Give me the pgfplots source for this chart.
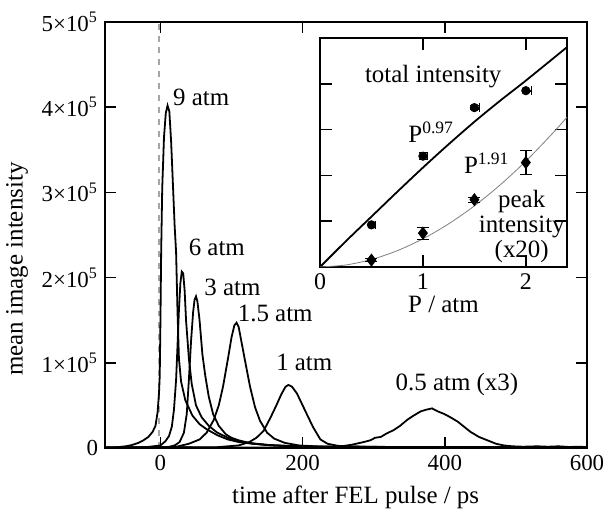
\documentclass[border=0pt]{standalone}
\usepackage{fontspec}
\setmainfont{Liberation Serif}
\usepackage{pgfplots}
\pgfplotsset{compat=1.18}

\newcommand{\tl}[1]{#1×10\textsuperscript{5}}

\begin{document}
\begin{tikzpicture}[font=\fontsize{11}{13}\selectfont,
  trace/.style={black, line width=0.9pt, no marks}]
\useasboundingbox (-52.5bp,-32bp) rectangle (252.5bp,224bp);
% main panel: time traces (y in units of 1e5)
\begin{axis}[
  at={(0,0)}, anchor=south west,
  scale only axis, width=241bp, height=213bp,
  xmin=-78, xmax=600, ymin=0, ymax=5,
  xtick={0,200,400,600},
  ytick={0,1,2,3,4,5},
  yticklabels={0,\tl{1},\tl{2},\tl{3},\tl{4},\tl{5}},
  tick align=inside, major tick length=5.5bp,
  axis line style={line width=0.8pt},
  tick style={line width=0.8pt, black},
  tick label style={font=\fontsize{11.5}{13}\selectfont},
  label style={font=\fontsize{12.5}{14}\selectfont},
  /pgf/number format/assume math mode=true,
  xlabel={time after FEL pulse / ps},
  xlabel style={at={(ticklabel cs:0.52)}, yshift=-1bp},
  ylabel={mean image intensity},
  ylabel style={at={(ticklabel cs:0.42)}},
]
\addplot[gray!70, dashed, line width=0.6pt] coordinates {(-2,0) (-2,5)};
% 9 atm
\addplot[trace] coordinates {
(-80,0.01) (-60,0.01) (-49,0.02) (-40,0.035) (-31,0.06) (-24,0.09) (-17,0.13)
(-11,0.19) (-7,0.26) (-4,0.42) (-2,0.65) (-1,0.85) (0,1.5) (1,2.3) (2.5,3.05)
(5,3.65) (7.5,3.93) (10,4.02) (12.5,3.95) (15,3.6) (17,3.2) (20,2.6) (22,2.3)
(24,1.6) (26,1.05) (29,0.78) (35,0.56) (45,0.38) (55,0.28) (65,0.22) (80,0.15)
(95,0.1) (110,0.07) (130,0.05) (160,0.03) (200,0.02) (300,0.01) (600,0.01)};
% 6 atm
\addplot[trace] coordinates {
(-80,0.005) (-20,0.01) (0,0.03) (7,0.08) (12,0.14) (16,0.25) (19,0.45) (22,0.8)
(24,1.2) (26,1.62) (28,1.93) (30,2.07) (32,2.05) (34,1.85) (36,1.5) (40,1.05)
(44,0.75) (50,0.5) (58,0.36) (68,0.26) (80,0.18) (95,0.12) (110,0.08) (130,0.05)
(160,0.03) (200,0.015) (600,0.008)};
% 3 atm
\addplot[trace] coordinates {
(-80,0.003) (10,0.01) (20,0.03) (27,0.07) (33,0.18) (37,0.4) (40,0.8) (43,1.25)
(46,1.6) (48,1.74) (50,1.78) (52,1.72) (55,1.5) (59,1.1) (63,0.85) (68,0.6)
(74,0.4) (82,0.26) (92,0.16) (100,0.12) (110,0.09) (125,0.06) (150,0.035)
(200,0.015) (600,0.005)};
% 1.5 atm
\addplot[trace] coordinates {
(-80,0.003) (20,0.01) (40,0.05) (55,0.1) (65,0.18) (75,0.33) (82,0.5) (88,0.72)
(95,1.05) (100,1.3) (104,1.44) (107,1.47) (110,1.42) (115,1.2) (120,0.98)
(126,0.72) (133,0.48) (140,0.32) (150,0.18) (160,0.11) (175,0.06) (195,0.03)
(230,0.015) (600,0.005)};
% 1 atm
\addplot[trace] coordinates {
(-80,0.003) (80,0.01) (110,0.03) (125,0.07) (135,0.12) (145,0.2) (155,0.36)
(163,0.5) (170,0.63) (176,0.72) (180,0.74) (185,0.72) (192,0.64) (200,0.5)
(208,0.36) (215,0.24) (225,0.1) (235,0.05) (250,0.025) (265,0.02) (300,0.01)
(600,0.005)};
% 0.5 atm (x3)
\addplot[trace] coordinates {
(-80,0.005) (0,0.008) (100,0.006) (200,0.005) (239,0.01) (255,0.02) (270,0.04)
(286,0.07) (295,0.09) (302,0.12) (310,0.13) (318,0.17) (328,0.21) (337,0.26)
(347,0.33) (356,0.38) (366,0.43) (374,0.45) (382,0.465) (390,0.43) (399,0.40)
(408,0.36) (418,0.31) (427,0.25) (436,0.19) (448,0.13) (460,0.09) (472,0.05)
(483,0.03) (495,0.02) (510,0.015) (530,0.02) (545,0.015) (560,0.02)
(575,0.012) (590,0.015) (600,0.01)};
\begin{scope}[font=\fontsize{12.5}{14}\selectfont]
\node[anchor=west] at (axis cs:8,4.12) {9 atm};
\node[anchor=west] at (axis cs:30,2.35) {6 atm};
\node[anchor=west] at (axis cs:52,1.89) {3 atm};
\node[anchor=west] at (axis cs:99,1.58) {1.5 atm};
\node[anchor=west] at (axis cs:153,1.0) {1 atm};
\node at (axis cs:417,0.74) {0.5 atm (x3)};
\end{scope}
\end{axis}

% inset: intensity vs pressure
\begin{axis}[
  at={(107.5bp,90.5bp)}, anchor=south west,
  scale only axis, width=123.5bp, height=114.5bp,
  xmin=0, xmax=2.4, ymin=0, ymax=5,
  xtick={0,1,2}, ytick={0,1,2,3,4,5}, yticklabels={},
  tick align=inside, major tick length=6bp,
  axis background/.style={fill=white},
  axis line style={line width=0.8pt},
  tick style={line width=0.8pt, black},
  tick label style={font=\fontsize{12}{13}\selectfont},
  label style={font=\fontsize{12.5}{14}\selectfont},
  /pgf/number format/assume math mode=true,
  xlabel={P / atm}, xlabel style={yshift=4bp},
]
% fit P^0.97
\addplot[black, line width=0.9pt, smooth] coordinates {
(0,0) (0.25,0.56) (0.5,1.1) (0.75,1.64) (1,2.17) (1.25,2.68) (1.5,3.17)
(1.75,3.63) (2,4.07) (2.4,4.8)};
% fit P^1.91
\addplot[gray, line width=0.4pt, smooth] coordinates {
(0,0) (0.25,0.044) (0.5,0.163) (0.75,0.355) (1,0.615) (1.25,0.942) (1.5,1.334)
(1.75,1.791) (2,2.311) (2.25,2.894) (2.4,3.27)};
% total intensity
\addplot[black, only marks, mark=*, mark size=2.1pt,
  error bars/.cd, x dir=plus, x explicit, y dir=both, y explicit,
  error bar style={line width=1pt}] coordinates {
(0.5,0.92) +- (0.04,0.02)
(1,2.42) +- (0.04,0.08)
(1.5,3.48) +- (0.05,0.04)
(2,3.85) +- (0.05,0.03)};
% peak intensity
\addplot[black, only marks, mark=diamond*, mark size=3pt,
  error bars/.cd, y dir=both, y explicit,
  error bar style={line width=0.8pt}] coordinates {
(0.5,0.15) +- (0,0.03)
(1,0.74) +- (0,0.13)
(1.5,1.47) +- (0,0.05)
(2,2.28) +- (0,0.26)};
\begin{scope}[font=\fontsize{12.5}{14}\selectfont]
\node at (axis cs:1.10,4.15) {total intensity};
\node at (axis cs:1.08,2.95) {P\textsuperscript{0.97}};
\node at (axis cs:1.62,2.27) {P\textsuperscript{1.91}};
\node[align=center, inner sep=0pt, font=\fontsize{12.5}{12.5}\selectfont]
  at (axis cs:1.96,0.88) {peak\\intensity\\(x20)};
\end{scope}
\end{axis}
\end{tikzpicture}
\end{document}
